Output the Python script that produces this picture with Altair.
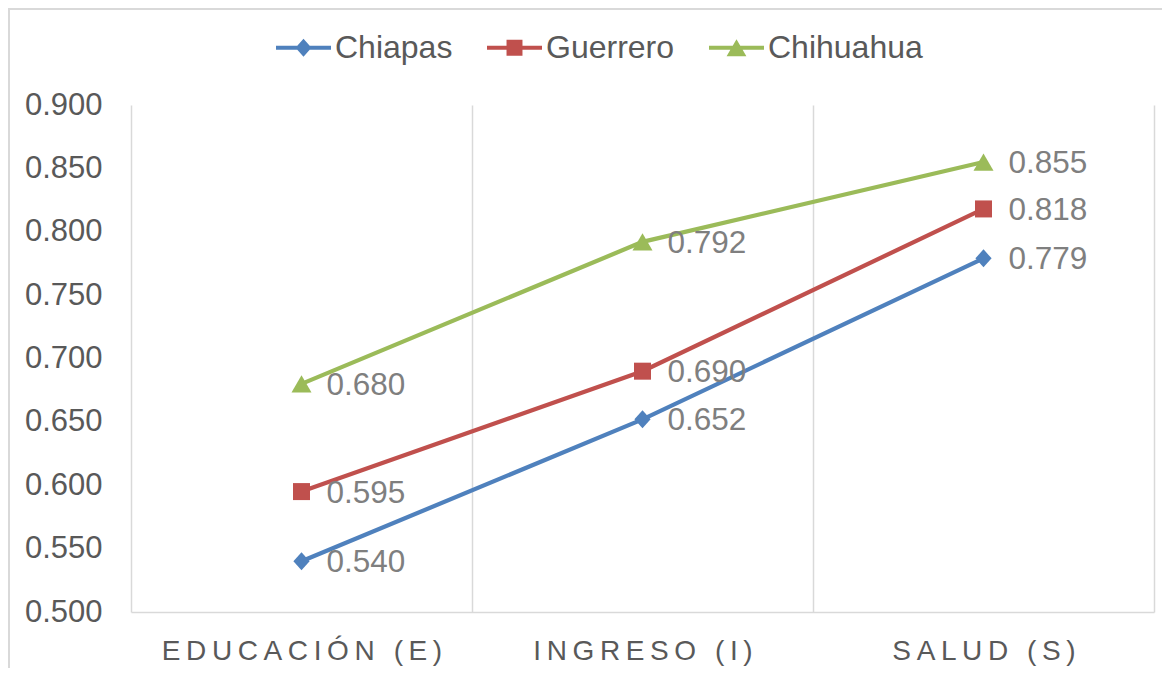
import altair as alt
import pandas as pd

# ---- data ----
categories = ["EDUCACIÓN (E)", "INGRESO (I)", "SALUD (S)"]
series = ["Chiapas", "Guerrero", "Chihuahua"]
chiapas = [0.540, 0.652, 0.779]
guerrero = [0.595, 0.690, 0.818]
chihuahua = [0.680, 0.792, 0.855]
y_ticks = [0.50, 0.55, 0.60, 0.65, 0.70, 0.75, 0.80, 0.85, 0.90]

colors = ["#4f81bd", "#c0504d", "#9bbb59"]

rows = []
for s, vals in zip(series, [chiapas, guerrero, chihuahua]):
    for c, v in zip(categories, vals):
        rows.append({"Category": c, "Series": s, "Value": v})
df = pd.DataFrame(rows)

W, H = 1023, 507
FONT = "Liberation Sans, Arial, Helvetica, sans-serif"
GRID = "#d9d9d9"

# marker shapes in the plot
marker_shapes = ["M-0.9,0L0,-1L0.9,0L0,1Z", "square", "triangle-up"]
marker_sizes = [324, 289, 400]

# legend symbols: line with marker (unit box coordinates)
bar = "M-1,-0.075L1,-0.075L1,0.075L-1,0.075Z"
legend_paths = [
    bar + "M-0.29,0L0,-0.33L0.29,0L0,0.33Z",
    bar + "M-0.29,-0.29L0.29,-0.29L0.29,0.29L-0.29,0.29Z",
    bar + "M-0.36,0.31L0,-0.31L0.36,0.31Z",
]

x_enc = alt.X(
    "Category:N",
    sort=categories,
    scale=alt.Scale(type="band", paddingInner=0, paddingOuter=0),
    axis=alt.Axis(
        title=None,
        tickBand="extent",
        grid=True,
        gridColor=GRID,
        gridWidth=1.5,
        domainColor=GRID,
        domainWidth=1.5,
        ticks=False,
        tickSize=0,
        labelAngle=0,
        labelFont=FONT,
        labelFontSize=28,
        labelColor="#595959",
        labelPadding=25,
        labelLimit=600,
        labelExpr="join(split(datum.label, ''), '\u2009')",
    ),
)
y_enc = alt.Y(
    "Value:Q",
    scale=alt.Scale(domain=[0.5, 0.9], nice=False, zero=False),
    axis=alt.Axis(
        title=None,
        values=y_ticks,
        format=".3f",
        grid=False,
        domain=False,
        ticks=False,
        tickSize=0,
        labelPadding=29,
        labelFont=FONT,
        labelFontSize=31,
        labelColor="#595959",
    ),
)
color_scale = alt.Scale(domain=series, range=colors)

base = alt.Chart(df)

lines = base.mark_line(strokeWidth=4.25).encode(
    x=x_enc, y=y_enc, color=alt.Color("Series:N", scale=color_scale, legend=None)
)

point_layers = []
for s, shp, sz in zip(series, marker_shapes, marker_sizes):
    point_layers.append(
        base.transform_filter(alt.datum.Series == s)
        .mark_point(filled=True, shape=shp, size=sz, opacity=1)
        .encode(x=x_enc, y=y_enc, color=alt.Color("Series:N", scale=color_scale, legend=None))
    )

labels = base.mark_text(
    align="left", baseline="middle", dx=25, dy=2, font=FONT, fontSize=31.5, color="#7f7f7f"
).encode(x=x_enc, y=y_enc, text=alt.Text("Value:Q", format=".3f"))

leg = dict(
    title=None,
    orient="none",
    legendX=145,
    legendY=-85,
    direction="horizontal",
    symbolSize=3025,
    symbolStrokeWidth=0,
    symbolOpacity=1,
    labelFont=FONT,
    labelFontSize=32,
    labelColor="#595959",
    labelOffset=4,
    columnPadding=34,
    padding=0,
    labelLimit=400,
)
# legend-only layer (no rows drawn), placed first so its legend settings win
legend_layer = (
    base.transform_filter("datum.Value < 0")
    .mark_point(filled=True, opacity=1)
    .encode(
        x=x_enc,
        y=y_enc,
        color=alt.Color("Series:N", scale=color_scale, legend=alt.Legend(**leg)),
        shape=alt.Shape(
            "Series:N", scale=alt.Scale(domain=series, range=legend_paths), legend=alt.Legend(**leg)
        ),
    )
)

one = alt.Data(values=[{"k": 1}])
border_left = alt.Chart(one).mark_rule(color=GRID, strokeWidth=2).encode(
    x=alt.value(-122), y=alt.value(-97), y2=alt.value(H + 60)
)
border_top = alt.Chart(one).mark_rule(color=GRID, strokeWidth=2).encode(
    x=alt.value(-122), x2=alt.value(W + 20), y=alt.value(-96)
)

chart = (
    alt.layer(legend_layer, border_left, border_top, lines, *point_layers, labels)
    .properties(
        width=W,
        height=H,
        padding={"left": 123, "top": 97, "right": 8, "bottom": 56},
        autosize=alt.AutoSizeParams(type="none"),
        background="white",
    )
    .configure_view(stroke=None)
)

chart.save("out.html", embed_options={"renderer": "svg", "actions": False})
